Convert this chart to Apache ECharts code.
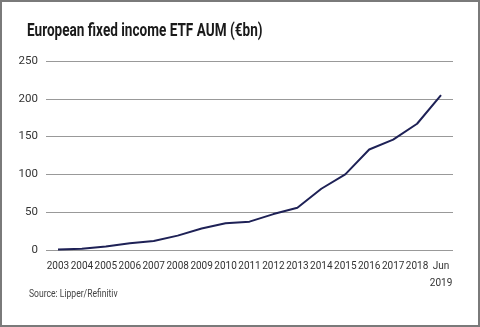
<!DOCTYPE html>
<html><head><meta charset="utf-8">
<script src="https://cdn.jsdelivr.net/npm/echarts@6/dist/echarts.min.js"></script>
<style>
html,body{margin:0;padding:0;background:#fff;}
#c{width:480px;height:327px;box-sizing:border-box;border:2px solid #7a7a7a;}
</style></head>
<body><div id="c"></div>
<script>
const categories = ['2003','2004','2005','2006','2007','2008','2009','2010','2011','2012','2013','2014','2015','2016','2017','2018','Jun\n2019'];
const aum = [0.5, 1.5, 4.5, 9, 12, 19, 28.5, 35.5, 37.5, 47.5, 56, 81, 100, 133, 146, 167, 205];
const yTicks = [0, 50, 100, 150, 200, 250];
const titleText = 'European fixed income ETF AUM (€bn)';
const sourceText = 'Source: Lipper/Refinitiv';

const chart = echarts.init(document.getElementById('c'), null, {renderer:'canvas'});
const font = 'Roboto, sans-serif';
chart.setOption({
  animation:false,
  graphic:[
    {type:'text', x:25, y:20, scaleX:0.715, style:{text:titleText, font:'bold 19px Roboto', fill:'#1a1a1a'}},
    {type:'text', x:27, y:287, scaleX:0.78, style:{text:sourceText, font:'11px Roboto', fill:'#444'}}
  ],
  grid:{left:44, right:25, top:59, bottom:75},
  xAxis:{type:'category', data:categories, boundaryGap:true,
    axisLine:{show:false}, axisTick:{show:false},
    axisLabel:{fontFamily:font, fontSize:10, color:'#333', margin:8, interval:0, lineHeight:17, align:'center'}},
  yAxis:{type:'value', min:0, max:250, interval:50,
    axisLine:{show:false}, axisTick:{show:false},
    splitLine:{lineStyle:{color:'#999', width:1}},
    axisLabel:{fontFamily:font, fontSize:11.5, color:'#333', margin:8}},
  series:[{type:'line', data:aum, symbol:'none', smooth:false,
    lineStyle:{color:'#1e2156', width:2}}]
});
</script></body></html>
